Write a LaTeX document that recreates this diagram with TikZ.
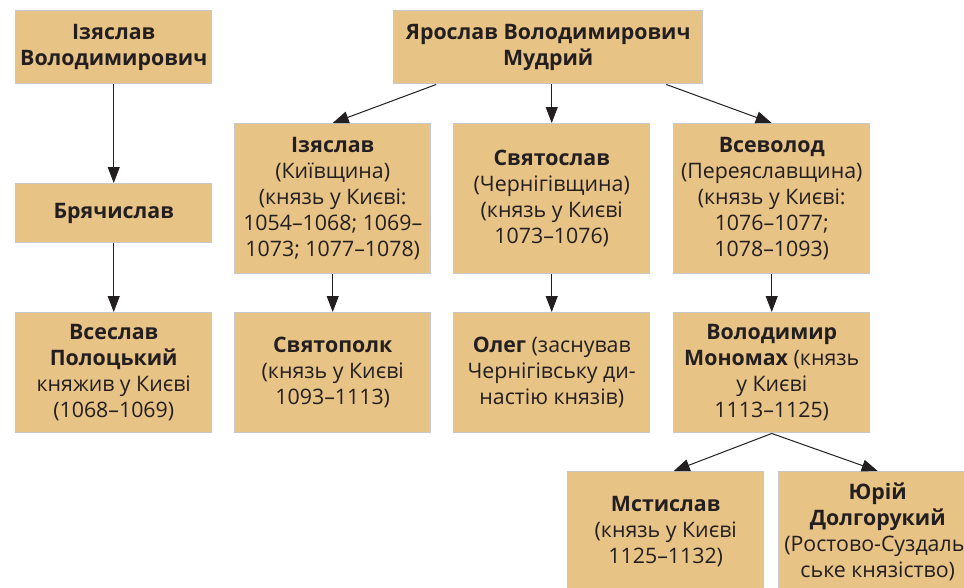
\documentclass[tikz,border=0pt]{standalone}
\usepackage{fontspec}
\setmainfont{Open Sans}
\usetikzlibrary{arrows.meta,calc}

\definecolor{boxfill}{HTML}{E8C386}
\definecolor{boxline}{HTML}{C6C8CB}
\definecolor{inktext}{HTML}{231F20}

\begin{document}
\begin{tikzpicture}[x=0.75pt, y=-0.75pt,
  box/.style={draw=boxline, fill=boxfill, rectangle, line width=1.1pt,
    anchor=north west, minimum width=147pt, align=center, inner sep=2pt,
    text=inktext, font={\fontsize{16}{19.5}\selectfont}},
  link/.style={line width=0.75pt, draw=inktext, -{Triangle[length=12pt, width=9pt]}}]

\useasboundingbox (0,0) rectangle (964,587);

% left branch
\node [box, minimum height=54.75pt] (izvolod) at (15,10)
  {\textbf{Ізяслав}\\\textbf{Володимирович}};

\node [box, minimum height=44.25pt] (bryach) at (15,183) {\textbf{Брячислав}};

\node [box, minimum height=90pt] (vseslav) at (15,312)
  {\textbf{Всеслав}\\\textbf{Полоцький}\\княжив у Києві\\(1068–1069)};

% Yaroslav and sons
\node [box, minimum width=231.75pt, minimum height=54.75pt] (yarosl) at (393,10)
  {\textbf{Ярослав Володимирович}\\\textbf{Мудрий}};

\node [box, minimum height=112.5pt] (izyasl) at (234,123)
  {\textbf{Ізяслав}\\(Київщина)\\(князь у Києві:\\1054–1068; 1069–\\1073; 1077–1078)};

\node [box, minimum height=112.5pt] (svyatosl) at (453,123)
  {\textbf{Святослав}\\(Чернігівщина)\\(князь у Києві\\1073–1076)};

\node [box, minimum height=112.5pt] (vsevol) at (673,123)
  {\textbf{Всеволод}\\(Переяславщина)\\(князь у Києві:\\1076–1077;\\1078–1093)};

% grandsons
\node [box, minimum height=90pt] (svyatop) at (234,312)
  {\textbf{Святополк}\\(князь у Києві\\1093–1113)};

\node [box, minimum height=90pt] (oleg) at (453,312)
  {\textbf{Олег} (заснував\\Чернігівську ди-\\настію князів)};

\node [box, minimum height=90pt] (monomakh) at (673,312)
  {\textbf{Володимир}\\\textbf{Мономах} (князь\\у Києві\\1113–1125)};

\node [box, minimum height=90pt] (mstysl) at (567,471)
  {\textbf{Мстислав}\\(князь у Києві\\1125–1132)};

\node [box, minimum width=148.5pt, minimum height=90pt] (yurii) at (778,471)
  {\textbf{Юрій}\\\textbf{Долгорукий}\\(Ростово-Суздаль-\\ське князіство)};

%\draw (yarosl) -- (svyatosl);

\draw [link] (izvolod) -- (bryach);
\draw [link] (bryach) -- (vseslav);

\draw [link] ($(yarosl.south)+(-112,0)$) -- (izyasl.north);
\draw [link] (yarosl.south -| svyatosl.north) -- (svyatosl.north);
\draw [link] ($(yarosl.south)+(118,0)$) -- (vsevol.north);

\draw [link] (izyasl) -- (svyatop);
\draw [link] (svyatosl) -- (oleg);
\draw [link] (vsevol) -- (monomakh);

\draw [link] (monomakh.south) -- ($(mstysl.north)+(8,0)$);
\draw [link] (monomakh.south) -- (yurii.north);

\end{tikzpicture}
\end{document}
